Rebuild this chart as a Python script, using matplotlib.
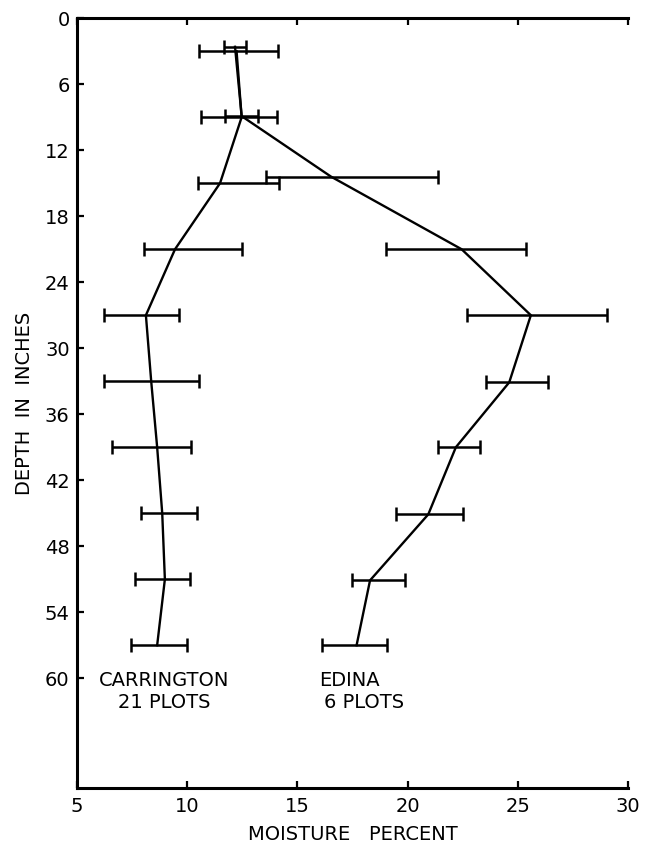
import matplotlib
matplotlib.use("Agg")
import matplotlib.pyplot as plt

# soil moisture by depth
carr_depth = [3, 9, 15, 21, 27, 33, 39, 45, 51, 57]
carr_mean = [12.25, 12.48, 11.5, 9.46, 8.14, 8.38, 8.65, 8.88, 9.0, 8.65]
carr_lo = [10.56, 10.63, 10.51, 8.05, 6.25, 6.22, 6.61, 7.91, 7.64, 7.45]
carr_hi = [14.11, 14.07, 14.18, 12.49, 9.64, 10.56, 10.19, 10.44, 10.14, 9.99]

edina_depth = [2.6, 8.9, 14.4, 21, 27, 33.1, 39, 45.1, 51.1, 57]
edina_mean = [12.18, 12.48, 16.53, 22.45, 25.59, 24.61, 22.19, 20.94, 18.3, 17.69]
edina_lo = [11.68, 11.72, 13.57, 19.02, 22.71, 23.54, 21.39, 19.46, 17.47, 16.13]
edina_hi = [12.67, 13.23, 21.36, 25.35, 29.05, 26.35, 23.28, 22.52, 19.88, 19.08]

xticks = [5, 10, 15, 20, 25, 30]
yticks = [0, 6, 12, 18, 24, 30, 36, 42, 48, 54, 60]

fig = plt.figure(figsize=(6.55, 8.5), dpi=100)
ax = fig.add_axes([0.117, 0.0726, 0.842, 0.906])

for depth, mean, lo, hi in [(carr_depth, carr_mean, carr_lo, carr_hi),
                            (edina_depth, edina_mean, edina_lo, edina_hi)]:
    ax.plot(mean, depth, color="black", lw=1.7)
    err = [[m - l for m, l in zip(mean, lo)], [h - m for m, h in zip(mean, hi)]]
    ax.errorbar(mean, depth, xerr=err, fmt="none", ecolor="black",
                elinewidth=1.8, capsize=5, capthick=1.8)

ax.set_xlim(5, 30)
ax.set_ylim(70, 0)
ax.set_xticks(xticks)
ax.set_yticks(yticks)
ax.spines["right"].set_visible(False)
for s in ["left", "bottom", "top"]:
    ax.spines[s].set_linewidth(2.2)
ax.tick_params(axis="both", direction="in", length=5, width=1.6,
               labelsize=14, pad=6)
ax.tick_params(axis="x", top=True)
ax.tick_params(axis="y", pad=5)

ax.set_xlabel("MOISTURE   PERCENT", fontsize=14, labelpad=7)
ax.set_ylabel("DEPTH  IN  INCHES", fontsize=14, labelpad=8)

ax.text(8.95, 60.2, "CARRINGTON", fontsize=14, ha="center", va="center")
ax.text(8.95, 62.2, "21 PLOTS", fontsize=14, ha="center", va="center")
ax.text(16.0, 60.2, "EDINA", fontsize=14, ha="left", va="center")
ax.text(16.2, 62.2, "6 PLOTS", fontsize=14, ha="left", va="center")

fig.savefig("out.png", dpi=100)
